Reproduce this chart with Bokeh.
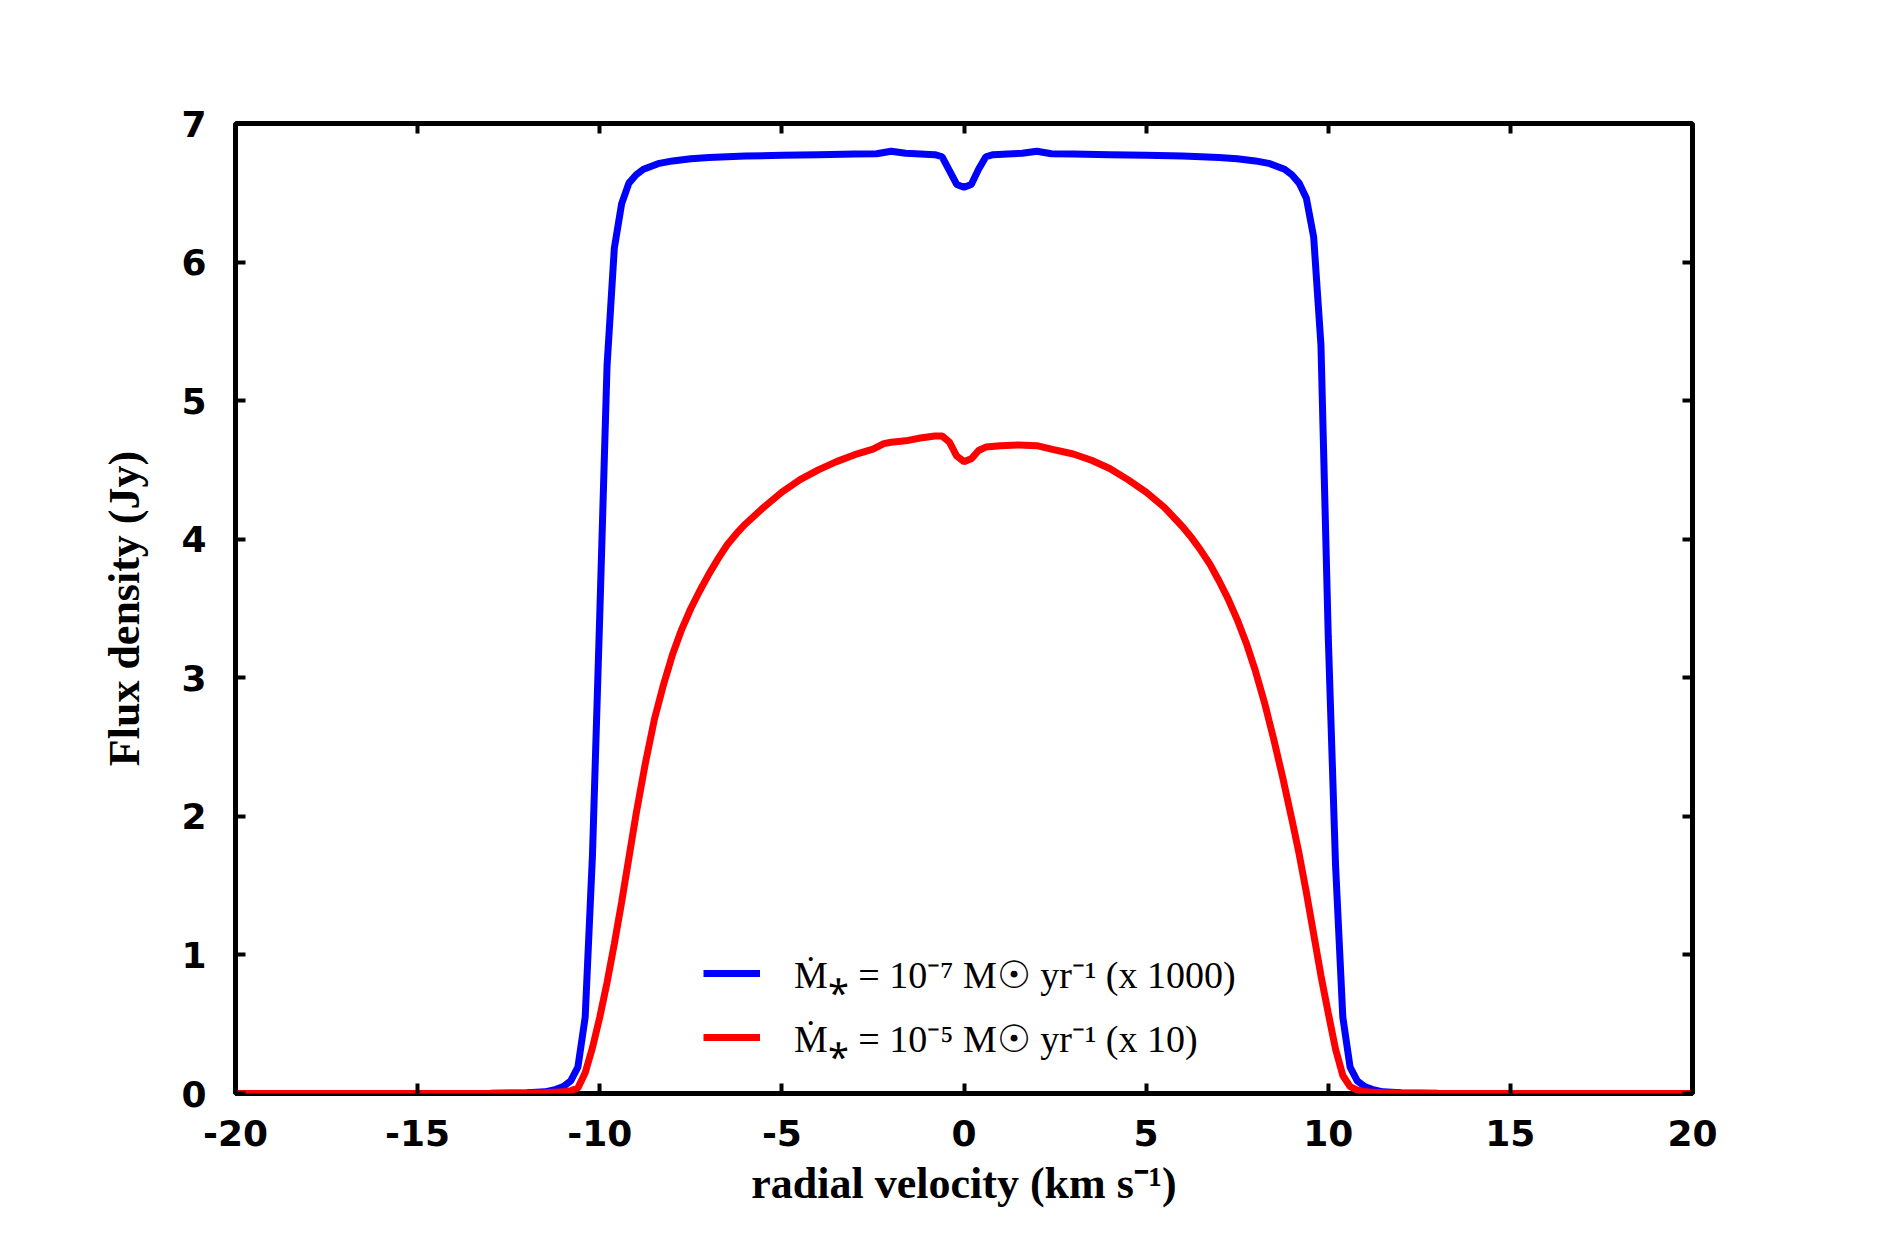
from bokeh.plotting import figure
from bokeh.models import Range1d, LinearAxis, FixedTicker, CustomJSTickFormatter, Legend, LegendItem
from bokeh.embed import file_html
from bokeh.resources import INLINE

# ---- data ----
blue_v = [-20, -15, -13, -12, -11.5, -11.2, -11.0, -10.8, -10.6, -10.4, -10.2, -10.0, -9.8, -9.6,
          -9.4, -9.2, -9.0, -8.8, -8.4, -8.0, -7.5, -7.0, -6.0, -5.0, -4.0, -3.0, -2.4, -2.0,
          -1.6, -1.2, -0.8, -0.6, -0.4, -0.2, 0.0, 0.2, 0.4, 0.6, 0.8, 1.2, 1.6, 2.0, 2.4,
          3.0, 4.0, 5.0, 6.0, 7.0, 7.5, 8.0, 8.4, 8.8, 9.0, 9.2, 9.4, 9.6, 9.8, 10.0, 10.2,
          10.4, 10.6, 10.8, 11.0, 11.2, 11.5, 12, 13, 15, 20]
blue_f = [0.0, 0.0, 0.002, 0.005, 0.012, 0.03, 0.05, 0.09, 0.19, 0.55, 1.72, 3.45, 5.25, 6.10,
          6.42, 6.57, 6.63, 6.67, 6.71, 6.73, 6.745, 6.755, 6.765, 6.77, 6.775, 6.78, 6.782, 6.80,
          6.785, 6.78, 6.775, 6.76, 6.66, 6.56, 6.54, 6.56, 6.67, 6.76, 6.775, 6.78, 6.785, 6.80, 6.782,
          6.78, 6.775, 6.77, 6.765, 6.755, 6.745, 6.73, 6.71, 6.67, 6.63, 6.57, 6.46, 6.18, 5.40, 3.30, 1.65,
          0.55, 0.19, 0.09, 0.05, 0.03, 0.012, 0.005, 0.002, 0.0, 0.0]

red_v = [-20, -13, -12, -11.5, -11.0, -10.8, -10.6, -10.4, -10.2, -10.0, -9.8, -9.6, -9.4, -9.2,
         -9.0, -8.75, -8.5, -8.25, -8.0, -7.75, -7.5, -7.25, -7.0, -6.75, -6.5, -6.25, -6.0,
         -5.5, -5.0, -4.5, -4.0, -3.5, -3.0,
         -2.5, -2.2, -2.0, -1.6, -1.2, -0.8, -0.6, -0.4, -0.2, 0.0, 0.2, 0.4, 0.6, 1.0, 1.5,
         2.0, 2.4, 3.0, 3.5, 4.0, 4.5, 5.0, 5.5, 6.0, 6.25, 6.5, 6.75, 7.0, 7.25, 7.5, 7.75,
         8.0, 8.25, 8.5, 8.75, 9.0, 9.2, 9.4,
         9.6, 9.8, 10.0, 10.2, 10.4, 10.6, 10.8, 11.0, 11.5, 12, 13, 20]
red_f = [0.0, 0.0, 0.002, 0.005, 0.012, 0.02, 0.04, 0.15, 0.33, 0.55, 0.80, 1.08, 1.38, 1.70,
         2.02, 2.38, 2.70, 2.95, 3.17, 3.35, 3.50, 3.63, 3.75, 3.86, 3.96, 4.04, 4.11,
         4.23, 4.34, 4.43, 4.50, 4.56, 4.61,
         4.65, 4.69, 4.70, 4.71, 4.73, 4.745, 4.745, 4.70, 4.60, 4.56, 4.58, 4.64, 4.665, 4.675, 4.68,
         4.675, 4.65, 4.615, 4.57, 4.51, 4.43, 4.34, 4.23, 4.09, 4.01, 3.92, 3.82, 3.70, 3.57, 3.42, 3.25,
         3.05, 2.82, 2.56, 2.28, 1.98, 1.73, 1.45,
         1.15, 0.85, 0.58, 0.32, 0.13, 0.05, 0.025, 0.012, 0.005, 0.002, 0.0, 0.0]

x_ticks = [-20, -15, -10, -5, 0, 5, 10, 15, 20]
y_ticks = [0, 1, 2, 3, 4, 5, 6, 7]

labels = ["Ṁ⁎ = 10⁻⁷ M☉ yr⁻¹ (x 1000)", "Ṁ⁎ = 10⁻⁵ M☉ yr⁻¹ (x 10)"]
x_label = "radial velocity (km s⁻¹)"
y_label = "Flux density (Jy)"

BLUE = "#0000ff"
RED = "#ff0000"

p = figure(width=1860, height=1220, output_backend="svg", toolbar_location=None,
           x_range=Range1d(-20, 20), y_range=Range1d(0, 7),
           min_border_left=235, min_border_right=168, min_border_top=123, min_border_bottom=127)
p.background_fill_color = "white"
p.border_fill_color = "white"
p.outline_line_color = "black"
p.outline_line_width = 5
p.xgrid.visible = False
p.ygrid.visible = False

rb = p.line(blue_v, blue_f, line_color=BLUE, line_width=7)
rr = p.line(red_v, red_f, line_color=RED, line_width=7)

tick_font = "DejaVu Sans"
label_font = "Liberation Serif"

def style_axis(ax, show_labels):
    ax.axis_line_color = None
    ax.major_tick_in = 10
    ax.major_tick_out = 0
    ax.major_tick_line_width = 4
    ax.major_tick_line_color = "black"
    ax.minor_tick_line_color = None
    ax.major_label_text_font = tick_font
    ax.major_label_text_font_style = "bold"
    ax.major_label_text_font_size = "36px"
    ax.major_label_text_color = "black"
    if show_labels:
        ax.formatter = CustomJSTickFormatter(code="return tick.toFixed(0);")
    else:
        ax.formatter = CustomJSTickFormatter(code="return '';")

xa = p.xaxis[0]
ya = p.yaxis[0]
xa.ticker = FixedTicker(ticks=x_ticks)
ya.ticker = FixedTicker(ticks=y_ticks)
style_axis(xa, True)
style_axis(ya, True)
xa.major_label_standoff = 26
ya.major_label_standoff = 29
xa.axis_label = x_label
ya.axis_label = y_label
for ax in (xa, ya):
    ax.axis_label_text_font = label_font
    ax.axis_label_text_font_style = "bold"
    ax.axis_label_text_font_size = "44px"
    ax.axis_label_text_color = "black"
xa.axis_label_standoff = 10
ya.axis_label_standoff = 29

top = LinearAxis(ticker=FixedTicker(ticks=x_ticks))
right = LinearAxis(ticker=FixedTicker(ticks=y_ticks))
style_axis(top, False)
style_axis(right, False)
p.add_layout(top, "above")
p.add_layout(right, "right")

legend = Legend(items=[LegendItem(label=labels[0], renderers=[rb]),
                       LegendItem(label=labels[1], renderers=[rr])],
                location=(468, 30), padding=0, margin=0, spacing=12,
                glyph_width=57, glyph_height=50, label_height=50, label_standoff=34,
                border_line_color=None, background_fill_alpha=0,
                label_text_font=label_font, label_text_font_size="38px", label_text_color="black")
p.add_layout(legend)

open("out.html", "w").write(file_html(p, INLINE))
